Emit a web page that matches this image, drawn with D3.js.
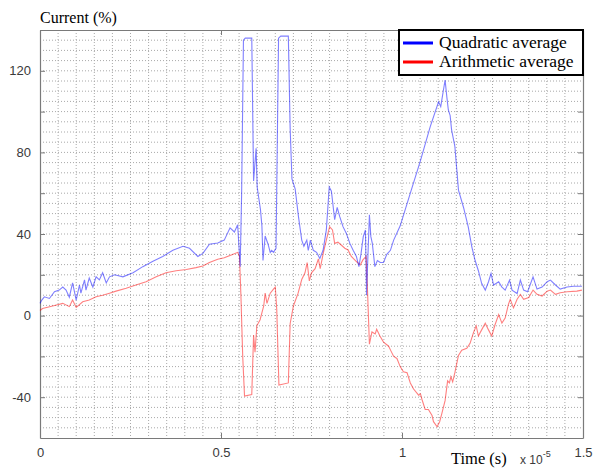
<!DOCTYPE html>
<html>
<head>
<meta charset="utf-8">
<script src="https://cdn.jsdelivr.net/npm/d3@7"></script>
<style>
    body { margin: 0; background: #fff; }
    #chart { width: 597px; height: 468px; }
</style>
</head>
<body>
<div id="chart"></div>
<script>
// Time axis is in units of 1e-5 s
let quadTime = [0, 0.005, 0.012, 0.026, 0.040, 0.053, 0.063, 0.072, 0.081, 0.090, 0.100, 0.109, 0.113, 0.123, 0.127,
    0.136, 0.146, 0.155, 0.164, 0.173, 0.183, 0.192, 0.206, 0.229, 0.257, 0.284, 0.312, 0.339, 0.367, 0.395, 0.413,
    0.436, 0.450, 0.468, 0.491, 0.509, 0.525, 0.537, 0.546, 0.553, 0.557, 0.562, 0.567, 0.585, 0.590, 0.597, 0.600,
    0.604, 0.609, 0.613, 0.616, 0.622, 0.630, 0.636, 0.640, 0.645, 0.652, 0.659, 0.665, 0.686, 0.691, 0.696, 0.705,
    0.714, 0.723, 0.729, 0.737, 0.741, 0.747, 0.755, 0.764, 0.773, 0.782, 0.791, 0.799, 0.805, 0.814, 0.821, 0.828,
    0.837, 0.846, 0.856, 0.865, 0.874, 0.881, 0.887, 0.893, 0.899, 0.902, 0.906, 0.910, 0.914, 0.918, 0.925, 0.932,
    0.940, 0.949, 0.958, 0.968, 0.977, 0.995, 1.023, 1.051, 1.078, 1.101, 1.107, 1.119, 1.124, 1.128, 1.133, 1.137,
    1.146, 1.156, 1.170, 1.183, 1.193, 1.202, 1.211, 1.220, 1.230, 1.239, 1.246, 1.253, 1.267, 1.276, 1.285, 1.297,
    1.304, 1.318, 1.327, 1.336, 1.347, 1.362, 1.373, 1.387, 1.401, 1.410, 1.424, 1.437, 1.456, 1.474, 1.497];
let quadValue = [6, 7.6, 9.2, 8.4, 11.7, 12.5, 14, 12.5, 9, 16, 7.6, 15, 11, 17.5, 12.5,
    18.4, 14, 19, 17.5, 21, 16, 19, 20, 19, 21, 24, 26.6, 29, 32, 34, 33,
    29, 30.5, 35, 35.6, 37, 43, 41, 44.5, 24, 60, 135, 136, 136, 66, 82, 63,
    58, 52, 44, 27, 39, 35, 31, 32, 31, 33, 136, 137, 137, 92, 67, 62,
    48.5, 37, 34, 37, 32, 37, 32, 31, 28, 32, 42, 63, 61, 47, 53, 48.5,
    43.6, 40.4, 35.4, 32, 29, 24, 30.6, 38.7, 42, 10, 30, 49.4, 38.7, 35.4, 24, 27,
    26, 26, 30, 32, 37, 44, 60, 76, 92.6, 104.8, 102.4, 115.5, 107, 100.8, 98, 91,
    83, 61.5, 53, 43.5, 33.6, 27, 22, 15.8, 12.5, 16.6, 20.7, 15, 16.6, 14, 12.5, 17.4,
    12.5, 10.8, 17.4, 12.5, 11.7, 19, 13, 14, 16.6, 17.4, 15, 13, 14, 14.4, 14.4];

let arithTime = [0, 0.007, 0.035, 0.063, 0.081, 0.090, 0.100, 0.118, 0.136, 0.155, 0.173, 0.192, 0.210, 0.238,
    0.265, 0.293, 0.321, 0.348, 0.376, 0.404, 0.431, 0.450, 0.468, 0.491, 0.509, 0.532, 0.546, 0.551, 0.555, 0.560,
    0.565, 0.585, 0.590, 0.594, 0.599, 0.608, 0.618, 0.622, 0.627, 0.636, 0.645, 0.650, 0.654, 0.660, 0.686, 0.691,
    0.700, 0.713, 0.723, 0.732, 0.738, 0.744, 0.750, 0.760, 0.769, 0.774, 0.783, 0.791, 0.800, 0.808, 0.814, 0.823,
    0.832, 0.842, 0.851, 0.860, 0.874, 0.885, 0.892, 0.901, 0.905, 0.910, 0.917, 0.926, 0.930, 0.939, 0.949, 0.963,
    0.968, 0.977, 0.986, 0.995, 1.004, 1.014, 1.023, 1.032, 1.046, 1.051, 1.055, 1.064, 1.073, 1.083, 1.087, 1.097,
    1.104, 1.110, 1.119, 1.126, 1.131, 1.135, 1.140, 1.146, 1.156, 1.165, 1.179, 1.188, 1.197, 1.205, 1.211, 1.220,
    1.230, 1.239, 1.248, 1.257, 1.267, 1.276, 1.285, 1.294, 1.299, 1.308, 1.318, 1.327, 1.336, 1.350, 1.362, 1.373,
    1.387, 1.401, 1.410, 1.424, 1.437, 1.456, 1.483, 1.497];
let arithValue = [2.5, 3.5, 4.7, 6, 4.4, 7.6, 4, 6.8, 7.6, 9.2, 10, 11, 12, 13.4,
    15, 16.6, 19, 21, 22, 22.6, 23.5, 24.3, 26, 27.6, 28.4, 30, 31, 29, 10, -20,
    -39.4, -38.7, -9.5, -18, -5, -2, 4.7, 11, 6, 11, 13, 14, 3, -34, -33, -4,
    4.7, 11, 17.7, 21, 26, 17, 21, 23, 27.8, 23, 31, 37, 43.6, 42, 35.4, 36,
    34.6, 33, 32.2, 29, 26.5, 24.9, 27.3, 29, 11, -14, -8, -9, -6.7, -10, -13, -15,
    -16.8, -20, -21, -25, -27.5, -28, -33, -36, -39, -38.4, -41, -46, -46, -49, -52, -54.5,
    -52, -48, -41.7, -32, -33, -30, -32.5, -28, -19.5, -17, -16, -13.6, -8.6, -5, -10, -7,
    -3.7, -7, -10, -4.5, 0.5, -3.7, -1.2, 5.5, 8, 3.8, 8, 10.4, 8, 8.8, 12.5, 10.4,
    9.6, 12, 12.5, 10.4, 11.2, 11.7, 12, 12.5];

let xTicks = [0, 0.5, 1, 1.5];
let xTickLabels = ['0', '0.5', '1', '1.5'];
let yTicks = [-40, 0, 40, 80, 120];
let seriesNames = ['Quadratic average', 'Arithmetic average'];

drawChart();

function drawChart()
{
    let margin = {top: 30, right: 14, bottom: 30, left: 40};
    let width = 597 - margin.left - margin.right;
    let height = 468 - margin.top - margin.bottom;

    let svg = d3.select('#chart')
        .append('svg')
        .attr('width', 597)
        .attr('height', 468)
        .append('g')
        .attr('transform', 'translate(' + margin.left + ',' + margin.top + ')');

    let xScale = d3.scaleLinear().domain([0, 1.5]).range([0, width]);
    let yScale = d3.scaleLinear().domain([-60, 140]).range([height, 0]);

    // Dotted grid, one line every 0.05 and every 5 %
    let xGrid = d3.range(1, 30).map(function(i) { return i * 0.05; });
    let yGrid = d3.range(-55, 140, 5);

    svg.append('g')
        .selectAll('line')
        .data(xGrid)
        .enter().append('line')
        .attr('x1', function(d) { return xScale(d); })
        .attr('x2', function(d) { return xScale(d); })
        .attr('y1', 0)
        .attr('y2', height)
        .style('stroke', '#a8a8a8')
        .style('stroke-width', 1)
        .style('stroke-dasharray', '1,2');

    svg.append('g')
        .selectAll('line')
        .data(yGrid)
        .enter().append('line')
        .attr('x1', 0)
        .attr('x2', width)
        .attr('y1', function(d) { return yScale(d); })
        .attr('y2', function(d) { return yScale(d); })
        .style('stroke', '#a8a8a8')
        .style('stroke-width', 1)
        .style('stroke-dasharray', '1,2');

    // Axes with inward ticks
    let tickColor = '#7a7a7a';
    let xAxis = d3.axisBottom(xScale).tickValues(xTicks)
        .tickFormat(function(d, i) { return xTickLabels[i]; })
        .tickSizeInner(-5).tickSizeOuter(0).tickPadding(10);
    let xAxisTop = d3.axisTop(xScale).tickValues(xTicks).tickFormat('')
        .tickSizeInner(-5).tickSizeOuter(0);
    let yAxis = d3.axisLeft(yScale).tickValues(d3.range(-40, 140, 20))
        .tickFormat(function(d) { return yTicks.indexOf(d) >= 0 ? d : ''; })
        .tickSizeInner(-5).tickSizeOuter(0).tickPadding(9);
    let yAxisRight = d3.axisRight(yScale).tickValues(d3.range(-40, 140, 20)).tickFormat('')
        .tickSizeInner(-5).tickSizeOuter(0);

    let gx = svg.append('g').attr('transform', 'translate(0,' + height + ')').call(xAxis);
    let gxt = svg.append('g').call(xAxisTop);
    let gy = svg.append('g').call(yAxis);
    let gyr = svg.append('g').attr('transform', 'translate(' + width + ',0)').call(yAxisRight);

    [gx, gxt, gy, gyr].forEach(function(g) {
        g.select('.domain').style('stroke', tickColor).style('stroke-width', 1.2);
        g.selectAll('.tick line').style('stroke', tickColor);
        g.selectAll('.tick text')
            .style('font-family', '"Liberation Sans", Arial, sans-serif')
            .style('font-size', '13px')
            .style('fill', '#3a3a3a');
    });

    // Data lines
    let line = d3.line()
        .x(function(d) { return xScale(d[0]); })
        .y(function(d) { return yScale(d[1]); });

    let quadData = quadTime.map(function(t, i) { return [t, quadValue[i]]; });
    let arithData = arithTime.map(function(t, i) { return [t, arithValue[i]]; });

    svg.append('path')
        .datum(arithData)
        .attr('d', line)
        .style('fill', 'none')
        .style('stroke', '#ff0000')
        .style('stroke-opacity', 0.5)
        .style('stroke-width', 1.1);

    svg.append('path')
        .datum(quadData)
        .attr('d', line)
        .style('fill', 'none')
        .style('stroke', '#0000ff')
        .style('stroke-opacity', 0.5)
        .style('stroke-width', 1.1);

    // Axis titles
    let serif = '"Liberation Serif", "Times New Roman", serif';
    svg.append('text')
        .attr('x', 0)
        .attr('y', -7)
        .style('font-family', serif)
        .style('font-size', '16px')
        .style('fill', '#000')
        .text('Current (%)');

    svg.append('text')
        .attr('x', 411)
        .attr('y', height + 26)
        .style('font-family', serif)
        .style('font-size', '16.5px')
        .style('fill', '#000')
        .text('Time (s)');

    let expo = svg.append('text')
        .attr('x', 480)
        .attr('y', height + 26)
        .style('font-family', '"Liberation Sans", Arial, sans-serif')
        .style('font-size', '12px')
        .style('fill', '#3a3a3a');
    expo.append('tspan').text('x 10');
    expo.append('tspan')
        .attr('dy', -7)
        .style('font-size', '9px')
        .text('-5');

    // Legend
    let legend = svg.append('g')
        .attr('transform', 'translate(' + (width - 184) + ',0)');

    legend.append('rect')
        .attr('x', 0)
        .attr('y', 0)
        .attr('width', 184)
        .attr('height', 45)
        .style('fill', '#fff')
        .style('stroke', '#000')
        .style('stroke-width', 2);

    let legendColors = ['#0000ff', '#ff0000'];
    seriesNames.forEach(function(name, i) {
        legend.append('line')
            .attr('x1', 4)
            .attr('x2', 34)
            .attr('y1', 13 + i * 19)
            .attr('y2', 13 + i * 19)
            .style('stroke', legendColors[i])
            .style('stroke-width', 3);
        legend.append('text')
            .attr('x', 40)
            .attr('y', 18 + i * 19)
            .style('font-family', serif)
            .style('font-size', '17.5px')
            .style('fill', '#000')
            .text(name);
    });
}
</script>
</body>
</html>
